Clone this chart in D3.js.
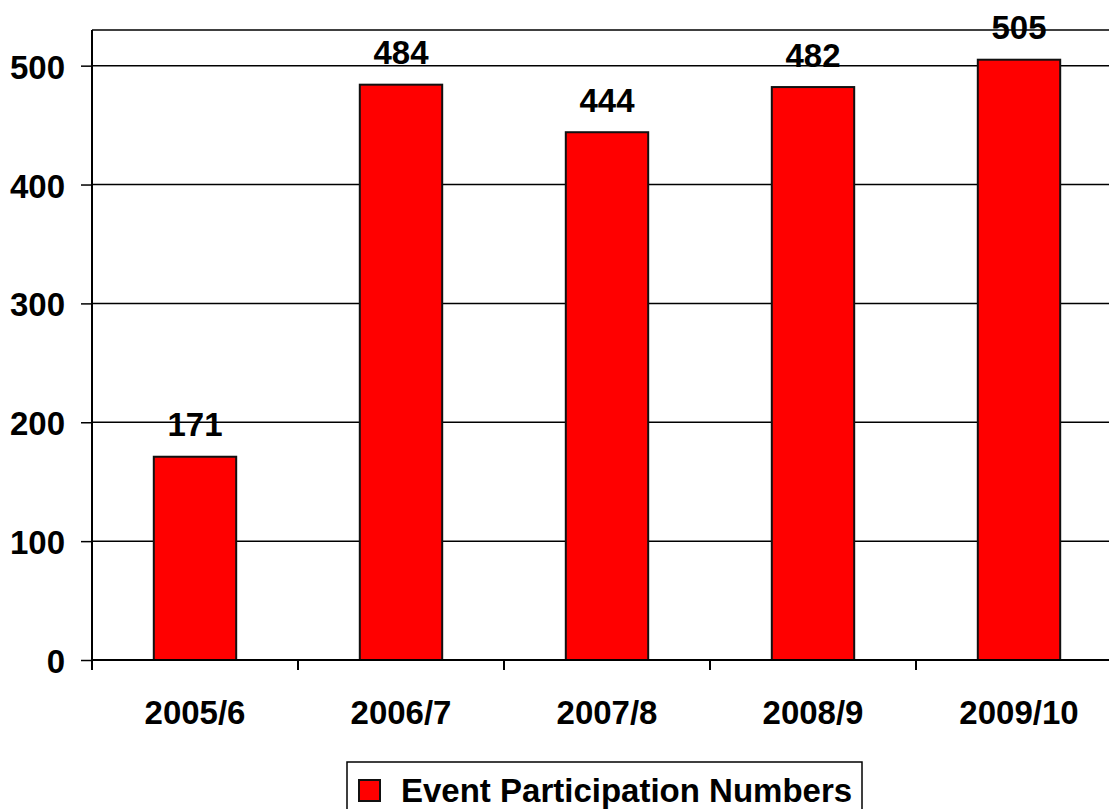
<!DOCTYPE html>
<html>
<head>
<meta charset="utf-8">
<script src="https://cdn.jsdelivr.net/npm/d3@7"></script>
<style>
  html, body { margin: 0; padding: 0; background: #fff; overflow: hidden; }
  svg { display: block; font-family: "Liberation Sans", Arial, sans-serif; font-weight: bold; }
</style>
</head>
<body>
<svg id="chart" width="1109" height="809"></svg>
<script>
const categories = ["2005/6", "2006/7", "2007/8", "2008/9", "2009/10"];
const values = [171, 484, 444, 482, 505];
const yTicks = [0, 100, 200, 300, 400, 500];
const seriesName = "Event Participation Numbers";

(function () {
const svg = d3.select("#chart");
const pLeft = 92, pRight = 1122, pTop = 30, pBottom = 660;
const fs = 33;

const x = d3.scaleBand().domain(categories).range([pLeft, pRight]).paddingInner(0.6).paddingOuter(0.3);
const y = d3.scaleLinear().domain([0, 530]).range([pBottom, pTop]);
const step = x.step();

// gridlines
svg.append("g").selectAll("line").data(yTicks.filter(d => d > 0)).join("line")
  .attr("x1", pLeft).attr("x2", pRight)
  .attr("y1", d => y(d)).attr("y2", d => y(d))
  .attr("stroke", "#000").attr("stroke-width", 1.5);

// plot area top border
svg.append("line").attr("x1", pLeft).attr("x2", pRight).attr("y1", pTop).attr("y2", pTop)
  .attr("stroke", "#000").attr("stroke-width", 1.5);

// bars
svg.append("g").selectAll("rect").data(values).join("rect")
  .attr("x", (d, i) => x(categories[i]))
  .attr("width", x.bandwidth())
  .attr("y", d => y(d))
  .attr("height", d => y(0) - y(d))
  .attr("fill", "#ff0000").attr("stroke", "#111").attr("stroke-width", 2);

// y axis
const yAxis = d3.axisLeft(y).tickValues(yTicks).tickSize(11).tickPadding(16).tickSizeOuter(0);
const yg = svg.append("g").attr("transform", `translate(${pLeft},0)`).call(yAxis);
yg.select(".domain").attr("stroke", "#000").attr("stroke-width", 2).attr("d", `M0,${pBottom}V${pTop}`);
yg.selectAll(".tick line").attr("stroke", "#000").attr("stroke-width", 1.5);
yg.selectAll(".tick text").attr("font-size", fs).attr("font-weight", "bold")
  .attr("font-family", "Liberation Sans, Arial, sans-serif").attr("fill", "#000")
  .attr("dy", "0.38em");

// x axis line
svg.append("line").attr("x1", pLeft).attr("x2", pRight).attr("y1", pBottom).attr("y2", pBottom)
  .attr("stroke", "#000").attr("stroke-width", 2);
// x category boundary ticks
const bounds = d3.range(categories.length + 1).map(i => pLeft + i * step);
svg.append("g").selectAll("line").data(bounds).join("line")
  .attr("x1", d => d).attr("x2", d => d)
  .attr("y1", pBottom).attr("y2", pBottom + 10)
  .attr("stroke", "#000").attr("stroke-width", 2);
// x labels
svg.append("g").selectAll("text").data(categories).join("text")
  .attr("x", d => x(d) + x.bandwidth() / 2)
  .attr("y", 724)
  .attr("text-anchor", "middle")
  .attr("font-size", fs).attr("fill", "#000")
  .text(d => d);

// data labels
svg.append("g").selectAll("text").data(values).join("text")
  .attr("x", (d, i) => x(categories[i]) + x.bandwidth() / 2)
  .attr("y", d => y(d) - 20.5)
  .attr("text-anchor", "middle")
  .attr("font-size", fs).attr("fill", "#000")
  .text(d => d);

// legend
const lg = svg.append("g");
lg.append("rect").attr("x", 347).attr("y", 762).attr("width", 515).attr("height", 60)
  .attr("fill", "#fff").attr("stroke", "#000").attr("stroke-width", 1.5);
lg.append("rect").attr("x", 359).attr("y", 780).attr("width", 21).attr("height", 21)
  .attr("fill", "#ff0000").attr("stroke", "#111").attr("stroke-width", 2);
lg.append("text").attr("x", 401).attr("y", 801.5)
  .attr("font-size", fs).attr("fill", "#000").text(seriesName);
})();
</script>
</body>
</html>
